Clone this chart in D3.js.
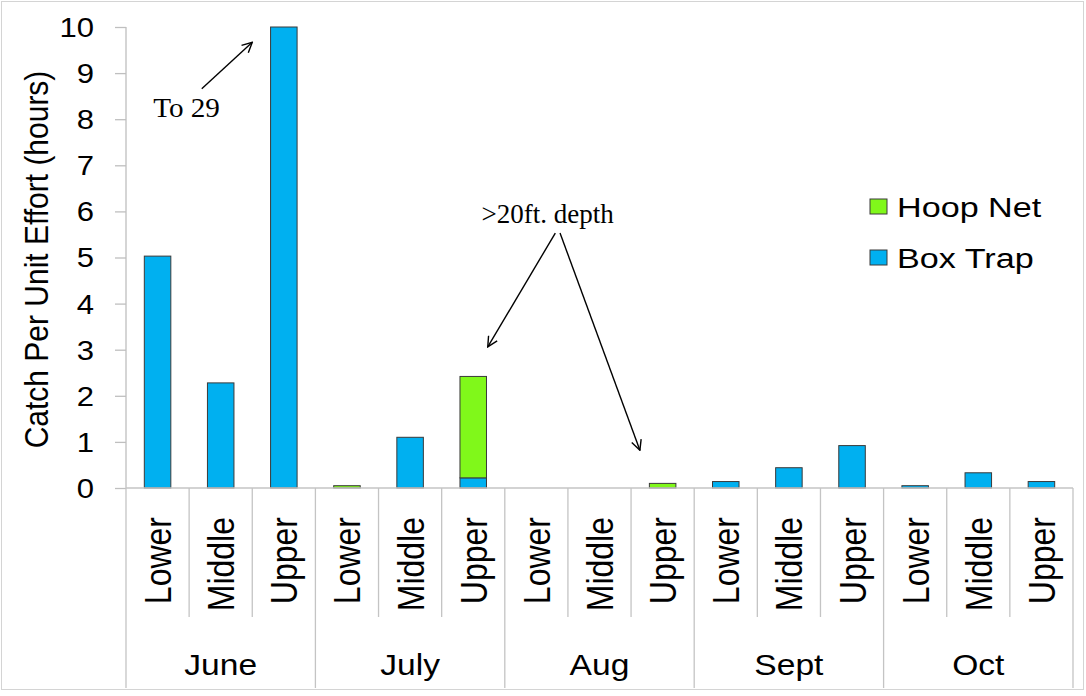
<!DOCTYPE html>
<html><head><meta charset="utf-8">
<script src="https://cdn.jsdelivr.net/npm/d3@7"></script>
<style>
body{margin:0;background:#fff}
svg{display:block}
text{font-family:"Liberation Sans",Arial,Helvetica,sans-serif;fill:#000}
</style>
</head><body>
<svg id="chart" width="1086" height="696"></svg>
<script>
// ---------- data ----------
const months = ["June", "July", "Aug", "Sept", "Oct"];
const sites = ["Lower", "Middle", "Upper"];
// one value per month x site (June Lower ... Oct Upper)
const boxTrap = [5.03, 2.28, 29, 0, 1.10, 0.22, 0, 0, 0, 0.14, 0.44, 0.92, 0.05, 0.33, 0.14];
const hoopNet = [0, 0, 0, 0.05, 0, 2.20, 0, 0, 0.10, 0, 0, 0, 0, 0, 0];
const yTicks = [0, 1, 2, 3, 4, 5, 6, 7, 8, 9, 10];
const seriesNames = ["Hoop Net", "Box Trap"];
const yTitle = "Catch Per Unit Effort (hours)";
// annotations in data units (x: category index, y: value)
const noteTo29 = { text: "To 29", tx: 0.43, ty: 8.04, from: [1.20, 8.66], to: [2.0, 9.67] };
const noteDepth = { text: ">20ft. depth", tx: 5.63, ty: 5.75,
  arrows: [ { from: [6.80, 5.53], to: [5.73, 3.06] }, { from: [6.875, 5.53], to: [8.14, 0.82] } ] };

// ---------- build ----------
const cats = [];
months.forEach(m => sites.forEach(s => cats.push({ key: m + "|" + s, month: m, site: s })));
const rows = cats.map((c, i) => ({ key: c.key, box: boxTrap[i], hoop: hoopNet[i] }));

const W = 1086, H = 696;
const plot = { left: 126, right: 1073, top: 27, bottom: 488 };
const SX = 1.15; // horizontal stretch of the source image's text

const svg = d3.select("#chart");
svg.append("rect").attr("x", 1.5).attr("y", 1.5).attr("width", 1082).attr("height", 688)
  .attr("fill", "#fff").attr("stroke", "#d4d4d4").attr("stroke-width", 1);

const x = d3.scaleBand().domain(cats.map(c => c.key))
  .range([plot.left, plot.right]).paddingInner(0.58).paddingOuter(0.29);
const xi = d3.scaleLinear().domain([0, cats.length]).range([plot.left, plot.right]);
const y = d3.scaleLinear().domain([0, 10]).range([plot.bottom, plot.top]).clamp(true);

const colors = { box: "#00B0F0", hoop: "#80F81A" };
const stack = d3.stack().keys(["box", "hoop"])(rows);

// y axis
const yAxis = svg.append("g").attr("transform", `translate(${plot.left},0)`)
  .call(d3.axisLeft(y).tickValues(yTicks).tickSize(11).tickFormat(d3.format("d")));
yAxis.select(".domain").attr("stroke", "#bfbfbf").attr("stroke-width", 1.3).attr("d", `M0,${plot.top}V${plot.bottom}`);
yAxis.selectAll(".tick line").attr("stroke", "#bfbfbf").attr("stroke-width", 1.3);
yAxis.selectAll(".tick text")
  .attr("x", null).attr("dy", "0.35em")
  .attr("transform", `translate(-32,0) scale(${SX},1)`)
  .style("font-size", "27px").style("font-family", '"Liberation Sans",Arial,sans-serif')
  .attr("fill", "#000");

// y title
svg.append("text")
  .attr("transform", `translate(48,${(plot.top + plot.bottom) / 2 + 2}) scale(1.1,1) rotate(-90)`)
  .attr("text-anchor", "middle")
  .style("font-size", "30px").text(yTitle);

// bars
const layers = svg.append("g");
stack.forEach(layer => {
  layers.selectAll(null).data(layer.filter(d => d[1] - d[0] > 0)).enter().append("rect")
    .attr("x", d => x(d.data.key))
    .attr("width", x.bandwidth())
    .attr("y", d => y(d[1]))
    .attr("height", d => y(d[0]) - y(d[1]))
    .attr("fill", colors[layer.key])
    .attr("stroke", "#3a3a3a").attr("stroke-width", 1);
});

// x axis line and dividers
const axisColor = "#c4c4c4";
svg.append("line").attr("x1", plot.left).attr("x2", plot.right)
  .attr("y1", plot.bottom).attr("y2", plot.bottom)
  .attr("stroke", axisColor).attr("stroke-width", 1.3);
const boundaries = d3.range(cats.length + 1);
svg.append("g").selectAll("line").data(boundaries).enter().append("line")
  .attr("x1", i => xi(i)).attr("x2", i => xi(i))
  .attr("y1", plot.bottom)
  .attr("y2", i => (i % sites.length === 0) ? 688 : 617)
  .attr("stroke", axisColor).attr("stroke-width", 1.3);

// site labels (rotated)
svg.append("g").selectAll("text").data(cats).enter().append("text")
  .attr("transform", d => `translate(${x(d.key) + x.bandwidth() / 2},517) scale(1.17,1) rotate(-90)`)
  .attr("text-anchor", "end").attr("dy", "0.36em")
  .style("font-size", "32px").text(d => d.site);

// month labels
svg.append("g").selectAll("text").data(months).enter().append("text")
  .attr("transform", (m, i) => `translate(${xi(i * sites.length + sites.length / 2)},675) scale(1.12,1)`)
  .attr("text-anchor", "middle")
  .style("font-size", "30px").text(m => m);

// legend
const legendItems = [{ name: seriesNames[0], color: colors.hoop }, { name: seriesNames[1], color: colors.box }];
const lg = svg.append("g").selectAll("g").data(legendItems).enter().append("g")
  .attr("transform", (d, i) => `translate(870,${199 + i * 51})`);
lg.append("rect").attr("width", 17).attr("height", 15)
  .attr("fill", d => d.color).attr("stroke", "#3a3a3a").attr("stroke-width", 1);
lg.append("text").attr("transform", `translate(27,17.5) scale(1.22,1)`)
  .style("font-size", "28px").text(d => d.name);

// annotations
const defs = svg.append("defs");
defs.append("marker").attr("id", "arr").attr("viewBox", "0 0 12 12")
  .attr("refX", 11).attr("refY", 6).attr("markerWidth", 12).attr("markerHeight", 12)
  .attr("markerUnits", "userSpaceOnUse").attr("orient", "auto")
  .append("path").attr("d", "M1,1 L11,6 L1,11").attr("fill", "none")
  .attr("stroke", "#000").attr("stroke-width", 1.4);

const serif = '"Liberation Serif","Times New Roman",serif';
svg.append("text")
  .attr("transform", `translate(${xi(noteTo29.tx)},${y(noteTo29.ty)}) scale(1.08,1)`)
  .style("font-family", serif).style("font-size", "27px").text(noteTo29.text);
svg.append("line")
  .attr("x1", xi(noteTo29.from[0])).attr("y1", y(noteTo29.from[1]))
  .attr("x2", xi(noteTo29.to[0])).attr("y2", y(noteTo29.to[1]))
  .attr("stroke", "#000").attr("stroke-width", 1.4).attr("marker-end", "url(#arr)");

svg.append("text")
  .attr("transform", `translate(${xi(noteDepth.tx)},${y(noteDepth.ty)}) scale(1.0,1)`)
  .style("font-family", serif).style("font-size", "27px").text(noteDepth.text);
svg.append("g").selectAll("line").data(noteDepth.arrows).enter().append("line")
  .attr("x1", a => xi(a.from[0])).attr("y1", a => y(a.from[1]))
  .attr("x2", a => xi(a.to[0])).attr("y2", a => y(a.to[1]))
  .attr("stroke", "#000").attr("stroke-width", 1.4).attr("marker-end", "url(#arr)");
</script>
</body></html>
